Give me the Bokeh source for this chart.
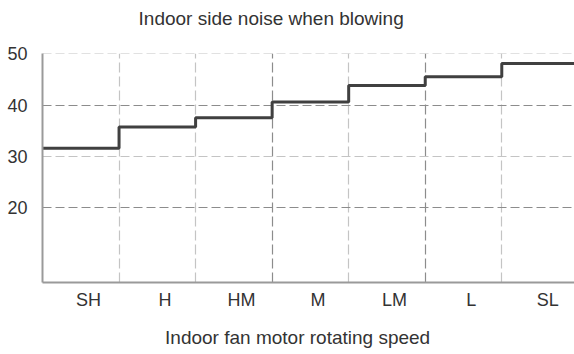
from bokeh.plotting import figure
from bokeh.models import FixedTicker, LinearAxis, Range1d, Grid
from bokeh.embed import file_html
from bokeh.resources import INLINE

categories = ["SH", "H", "HM", "M", "LM", "L", "SL"]
noise_db = [31.6, 35.7, 37.5, 40.6, 43.8, 45.5, 48.1]
y_ticks = [20, 30, 40, 50]
title_text = "Indoor side noise when blowing"
xlabel_text = "Indoor fan motor rotating speed"

FONT = "Liberation Sans"
TXT = "#333333"

n = len(categories)
xs = list(range(n + 1))
ys = noise_db + [noise_db[-1]]

p = figure(width=574, height=352, output_backend="svg", toolbar_location=None,
           x_range=Range1d(0, 6.95), y_range=Range1d(5.4, 50.05),
           min_border_left=42, min_border_right=0, min_border_top=53, min_border_bottom=70)
p.outline_line_color = None

# main axes
xax = p.below[0]
yax = p.left[0]
xax.ticker = FixedTicker(ticks=[i + 0.6 for i in range(n)])
xax.major_label_overrides = {i + 0.6: c for i, c in enumerate(categories)}
yax.ticker = FixedTicker(ticks=y_ticks)
for ax in (xax, yax):
    ax.axis_line_color = "#9a9a9a"
    ax.axis_line_width = 2
    ax.major_tick_line_color = None
    ax.minor_tick_line_color = None
    ax.major_label_text_font = FONT
    ax.major_label_text_font_size = "18px"
    ax.major_label_text_color = TXT
xax.major_label_standoff = 1
yax.major_label_standoff = 9

# title (above) and x caption (below), drawn as text of extra axes
def caption_axis(text, pos, standoff):
    return LinearAxis(ticker=FixedTicker(ticks=[pos]),
                      major_label_overrides={pos: text},
                      axis_line_color=None, major_tick_line_color=None,
                      minor_tick_line_color=None, major_label_standoff=standoff,
                      major_label_text_font=FONT, major_label_text_font_size="19px",
                      major_label_text_color=TXT)

p.add_layout(caption_axis(title_text, 2.987, 19), "above")
p.add_layout(caption_axis(xlabel_text, 3.333, 8), "below")

# grids (dashed; alternate lines rendered a bit darker as in the reference)
p.xgrid.visible = False
p.ygrid.visible = False
v_light = [1, 2, 4, 6]
v_dark = [3, 5]
h_light = [30, 50]
h_dark = [20, 40]
for dim, ticks, color, dash in [(0, v_light, "#c4c4c4", "10 4"), (0, v_dark, "#8c8c8c", "10 4"),
                                (1, h_light, "#c4c4c4", "9 4"), (1, h_dark, "#8c8c8c", "9 4")]:
    p.add_layout(Grid(dimension=dim, ticker=FixedTicker(ticks=ticks),
                      grid_line_color=color, grid_line_dash=dash, grid_line_width=1.2))

p.step(x=xs, y=ys, mode="after", line_color="#404040", line_width=3)

open("out.html", "w").write(file_html(p, INLINE))
